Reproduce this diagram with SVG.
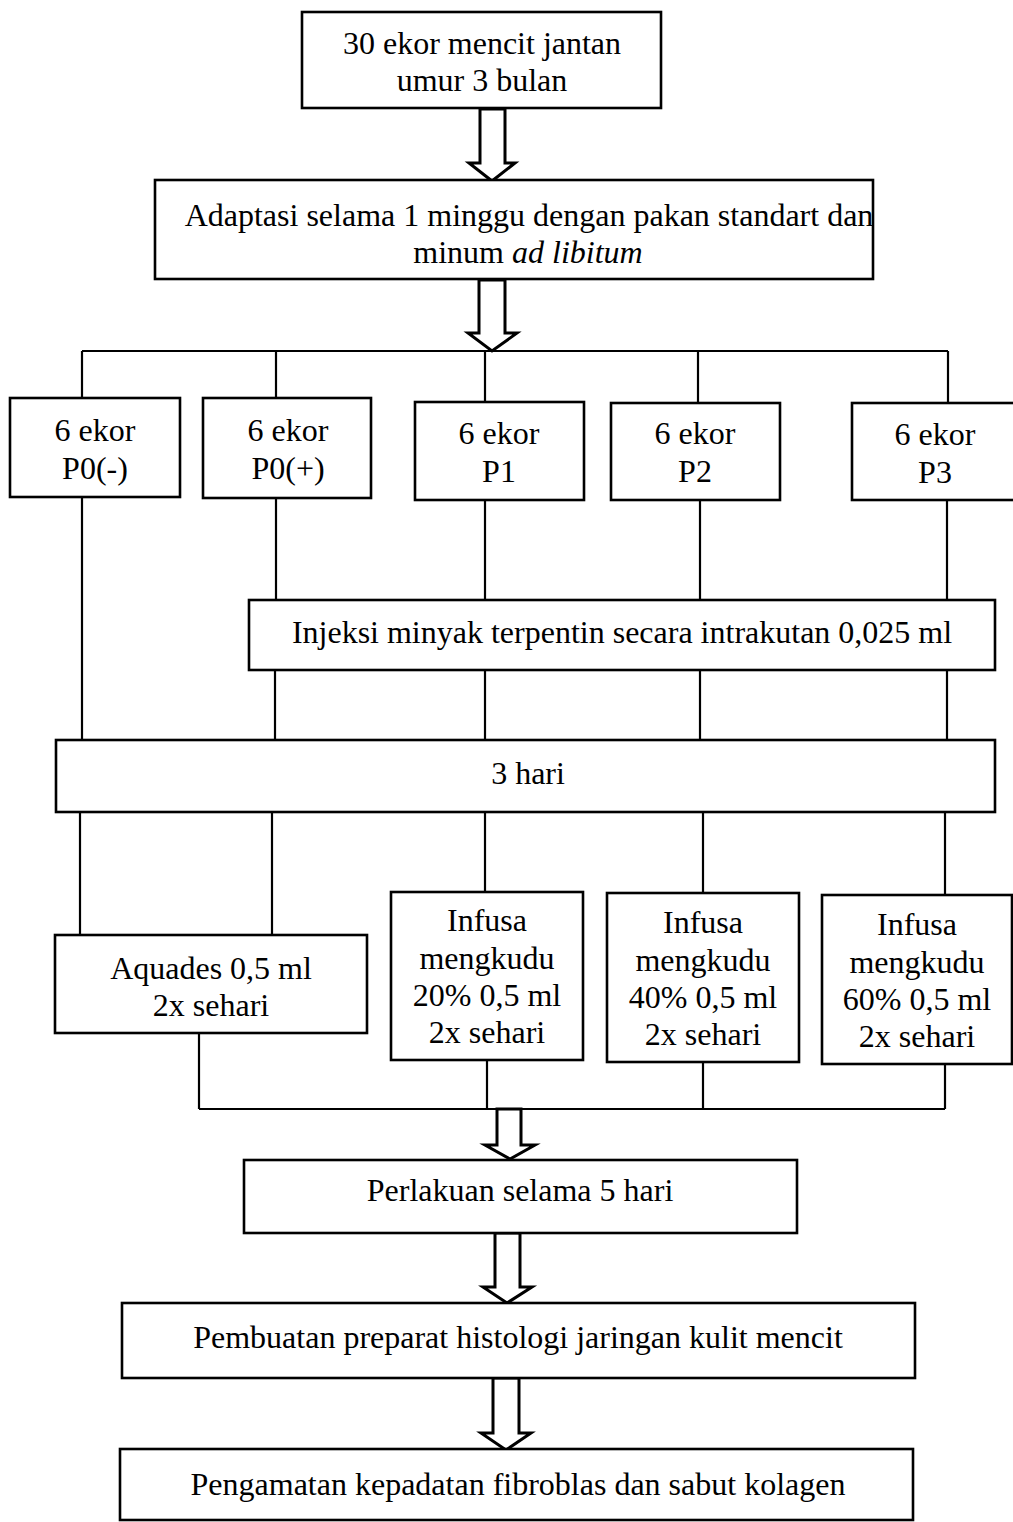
<svg xmlns="http://www.w3.org/2000/svg" width="1013" height="1522" viewBox="0 0 1013 1522">
<style>
  .box { fill: #ffffff; stroke: #000000; stroke-width: 2.6; }
  .ln { fill: none; stroke: #000000; stroke-width: 2.2; }
  .arr { fill: #ffffff; stroke: #000000; stroke-width: 3; stroke-linejoin: miter; }
  text { font-family: "Liberation Serif", "Times New Roman", serif; font-size: 32px; fill: #000000; text-anchor: middle; }
  .it { font-style: italic; }
</style>
<rect width="1013" height="1522" fill="#ffffff"/>

<g id="connectors">
  <line class="ln" x1="82" y1="351" x2="948" y2="351"/>
  <line class="ln" x1="82" y1="351" x2="82" y2="398"/>
  <line class="ln" x1="276" y1="351" x2="276" y2="398"/>
  <line class="ln" x1="485" y1="351" x2="485" y2="402"/>
  <line class="ln" x1="698" y1="351" x2="698" y2="403"/>
  <line class="ln" x1="948" y1="351" x2="948" y2="403"/>

  <line class="ln" x1="82" y1="497" x2="82" y2="740"/>
  <line class="ln" x1="276" y1="498" x2="276" y2="600"/>
  <line class="ln" x1="485" y1="500" x2="485" y2="600"/>
  <line class="ln" x1="700" y1="500" x2="700" y2="600"/>
  <line class="ln" x1="947" y1="500" x2="947" y2="600"/>

  <line class="ln" x1="275" y1="670" x2="275" y2="740"/>
  <line class="ln" x1="485" y1="670" x2="485" y2="740"/>
  <line class="ln" x1="700" y1="670" x2="700" y2="740"/>
  <line class="ln" x1="947" y1="670" x2="947" y2="740"/>

  <line class="ln" x1="80" y1="812" x2="80" y2="935"/>
  <line class="ln" x1="272" y1="812" x2="272" y2="935"/>
  <line class="ln" x1="485" y1="812" x2="485" y2="892"/>
  <line class="ln" x1="703" y1="812" x2="703" y2="893"/>
  <line class="ln" x1="945" y1="812" x2="945" y2="895"/>

  <line class="ln" x1="199" y1="1033" x2="199" y2="1109"/>
  <line class="ln" x1="487" y1="1060" x2="487" y2="1109"/>
  <line class="ln" x1="703" y1="1062" x2="703" y2="1109"/>
  <line class="ln" x1="945" y1="1064" x2="945" y2="1109"/>
  <line class="ln" x1="199" y1="1109" x2="945" y2="1109"/>

  <polygon class="arr" points="480,109 505,109 505,163 515,163 492,181 469,163 480,163"/>
  <polygon class="arr" points="479,280 505,280 505,333 517,333 492,351 468,333 479,333"/>
  <polygon class="arr" points="497,1109 521,1109 521,1145 535,1145 510,1159 485,1145 497,1145"/>
  <polygon class="arr" points="495,1233 520,1233 520,1287 532,1287 507,1303 483,1287 495,1287"/>
  <polygon class="arr" points="493,1378 519,1378 519,1433 531,1433 506,1450 481,1433 493,1433"/>
</g>

<g id="start">
  <rect class="box" x="302" y="12" width="359" height="96"/>
  <text x="482" y="54">30 ekor mencit jantan</text>
  <text x="482" y="91">umur 3 bulan</text>
</g>

<g id="adaptasi">
  <rect class="box" x="155" y="180" width="718" height="99"/>
  <text x="529" y="226">Adaptasi selama 1 minggu dengan pakan standart dan</text>
  <text x="528" y="263">minum <tspan class="it">ad libitum</tspan></text>
</g>

<g id="p0neg">
  <rect class="box" x="10" y="398" width="170" height="99"/>
  <text x="95" y="441">6 ekor</text>
  <text x="95" y="479">P0(-)</text>
</g>
<g id="p0pos">
  <rect class="box" x="203" y="398" width="168" height="100"/>
  <text x="288" y="441">6 ekor</text>
  <text x="288" y="479">P0(+)</text>
</g>
<g id="p1">
  <rect class="box" x="415" y="402" width="169" height="98"/>
  <text x="499" y="444">6 ekor</text>
  <text x="499" y="482">P1</text>
</g>
<g id="p2">
  <rect class="box" x="611" y="403" width="169" height="97"/>
  <text x="695" y="444">6 ekor</text>
  <text x="695" y="482">P2</text>
</g>
<g id="p3">
  <rect class="box" x="852" y="403" width="175" height="97"/>
  <text x="935" y="445">6 ekor</text>
  <text x="935" y="483">P3</text>
</g>

<g id="injeksi">
  <rect class="box" x="249" y="600" width="746" height="70"/>
  <text x="622" y="643">Injeksi minyak terpentin secara intrakutan 0,025 ml</text>
</g>

<g id="tiga-hari">
  <rect class="box" x="56" y="740" width="939" height="72"/>
  <text x="528" y="784">3 hari</text>
</g>

<g id="aquades">
  <rect class="box" x="55" y="935" width="312" height="98"/>
  <text x="211" y="979">Aquades 0,5 ml</text>
  <text x="211" y="1016">2x sehari</text>
</g>

<g id="infusa20">
  <rect class="box" x="391" y="892" width="192" height="168"/>
  <text x="487" y="931">Infusa</text>
  <text x="487" y="969">mengkudu</text>
  <text x="487" y="1006">20% 0,5 ml</text>
  <text x="487" y="1043">2x sehari</text>
</g>
<g id="infusa40">
  <rect class="box" x="607" y="893" width="192" height="169"/>
  <text x="703" y="933">Infusa</text>
  <text x="703" y="971">mengkudu</text>
  <text x="703" y="1008">40% 0,5 ml</text>
  <text x="703" y="1045">2x sehari</text>
</g>
<g id="infusa60">
  <rect class="box" x="822" y="895" width="190" height="169"/>
  <text x="917" y="935">Infusa</text>
  <text x="917" y="973">mengkudu</text>
  <text x="917" y="1010">60% 0,5 ml</text>
  <text x="917" y="1047">2x sehari</text>
</g>

<g id="perlakuan">
  <rect class="box" x="244" y="1160" width="553" height="73"/>
  <text x="520" y="1201">Perlakuan selama 5 hari</text>
</g>

<g id="pembuatan">
  <rect class="box" x="122" y="1303" width="793" height="75"/>
  <text x="518" y="1348">Pembuatan preparat histologi jaringan kulit mencit</text>
</g>

<g id="pengamatan">
  <rect class="box" x="120" y="1449" width="793" height="71"/>
  <text x="518" y="1495">Pengamatan kepadatan fibroblas dan sabut kolagen</text>
</g>
</svg>
